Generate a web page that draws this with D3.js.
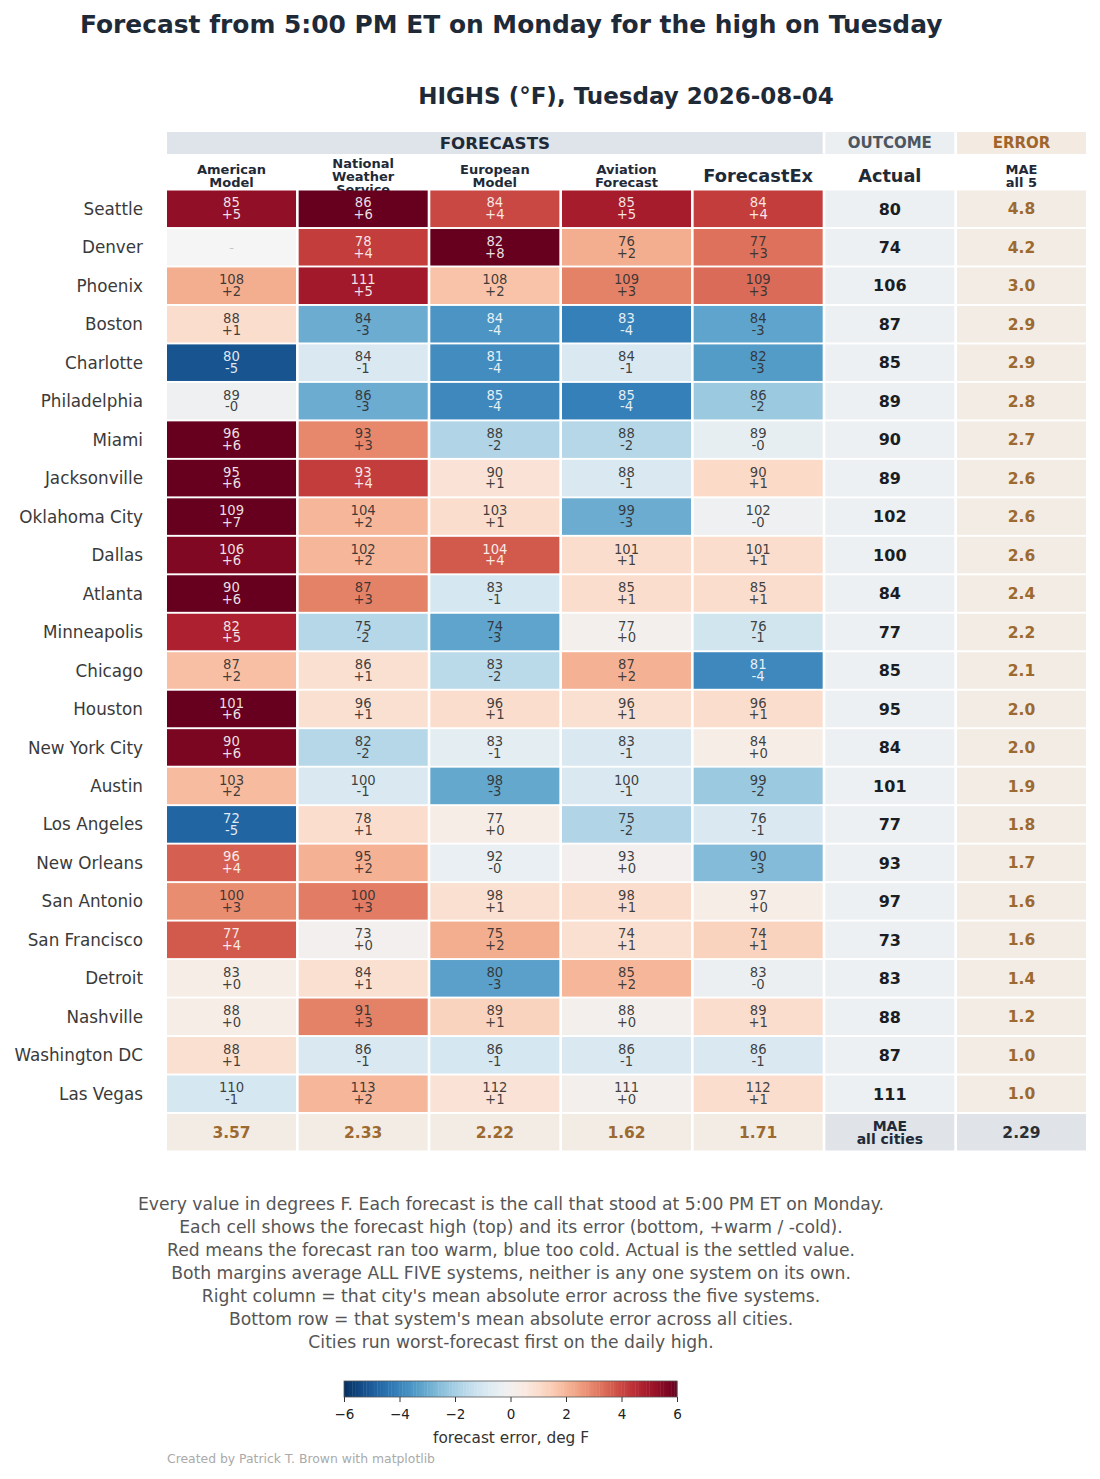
<!DOCTYPE html>
<html>
<head>
<meta charset="utf-8">
<script src="https://cdn.jsdelivr.net/npm/d3@7"></script>
<style>
  html, body { margin: 0; padding: 0; background: #fff; }
  svg { display: block; font-family: "DejaVu Sans", sans-serif; }
</style>
</head>
<body>
<svg id="chart" width="1100" height="1479"></svg>
<script>
// ---------------- DATA ----------------
const cities = ["Seattle","Denver","Phoenix","Boston","Charlotte","Philadelphia","Miami","Jacksonville",
  "Oklahoma City","Dallas","Atlanta","Minneapolis","Chicago","Houston","New York City","Austin",
  "Los Angeles","New Orleans","San Antonio","San Francisco","Detroit","Nashville","Washington DC","Las Vegas"];

const systems = ["American\nModel","National\nWeather\nService","European\nModel","Aviation\nForecast","ForecastEx"];

const actual = [80,74,106,87,85,89,90,89,102,100,84,77,85,95,84,101,77,93,97,73,83,88,87,111];

const fcAmerican   = [85,null,108,88,80,89,96,95,109,106,90,82,87,101,90,103,72,96,100,77,83,88,88,110];
const errAmerican  = [5.3,null,2.2,1.0,-5.2,-0.2,6.2,6.0,7.0,5.6,6.0,4.8,1.8,6.0,5.7,1.9,-4.8,3.6,2.8,3.7,0.3,0.3,0.9,-1.0];

const fcNWS        = [86,78,111,84,84,86,93,93,104,102,87,75,86,96,82,100,78,95,100,73,84,91,86,113];
const errNWS       = [6.0,4.2,5.0,-3.0,-0.9,-3.0,2.9,4.2,2.0,2.0,3.0,-1.7,0.9,0.9,-1.7,-0.9,1.0,2.1,3.1,0.0,0.9,3.0,-0.9,2.0];

const fcEuropean   = [84,82,108,84,81,85,88,90,103,104,83,74,83,96,83,98,77,92,98,75,80,89,86,112];
const errEuropean  = [4.0,8.0,1.7,-3.6,-3.8,-3.9,-1.8,0.8,1.0,3.7,-1.0,-3.2,-1.6,1.0,-0.6,-3.1,0.3,-0.4,0.9,2.2,-3.3,1.3,-1.0,0.8];

const fcAviation   = [85,76,109,83,84,85,88,88,99,101,85,77,87,96,83,100,75,93,98,74,85,88,86,111];
const errAviation  = [4.9,2.2,3.0,-4.1,-0.9,-4.1,-1.7,-0.9,-3.0,1.0,1.0,0.1,2.1,0.9,-0.9,-0.9,-1.8,0.0,1.0,0.9,2.0,0.1,-0.9,0.1];

const fcForecastEx  = [84,77,109,84,82,86,89,90,102,101,85,76,81,96,84,99,76,90,97,74,83,89,86,112];
const errForecastEx = [4.2,3.3,3.4,-3.2,-3.4,-2.2,-0.5,1.1,-0.2,1.0,1.0,-1.1,-3.9,1.0,0.3,-2.2,-0.9,-2.6,0.3,1.3,-0.3,1.0,-0.9,1.0];

const maeCity   = [4.8,4.2,3.0,2.9,2.9,2.8,2.7,2.6,2.6,2.6,2.4,2.2,2.1,2.0,2.0,1.9,1.8,1.7,1.6,1.6,1.4,1.2,1.0,1.0];
const maeSystem = [3.57,2.33,2.22,1.62,1.71];
const maeAll    = 2.29;

const cbTicks = [-6,-4,-2,0,2,4,6];

const footLines = [
  "Every value in degrees F. Each forecast is the call that stood at 5:00 PM ET on Monday.",
  "Each cell shows the forecast high (top) and its error (bottom, +warm / -cold).",
  "Red means the forecast ran too warm, blue too cold. Actual is the settled value.",
  "Both margins average ALL FIVE systems, neither is any one system on its own.",
  "Right column = that city's mean absolute error across the five systems.",
  "Bottom row = that system's mean absolute error across all cities.",
  "Cities run worst-forecast first on the daily high."
];

// ---------------- DRAW ----------------
const fcs  = [fcAmerican, fcNWS, fcEuropean, fcAviation, fcForecastEx];
const errs = [errAmerican, errNWS, errEuropean, errAviation, errForecastEx];

const svg = d3.select("#chart");
const DARK = "#1f2a38";
const BROWN = "#9c6a30";

const colKeys = ["c0","c1","c2","c3","c4","actual","mae"];
const x = d3.scaleBand().domain(colKeys).range([167, 1086]).paddingInner(0.02);
const rowKeys = cities.concat(["__MAE__"]);
const y = d3.scaleBand().domain(rowKeys).range([190.5, 1150.5]).paddingInner(0.05);
const color = d3.scaleSequential(d3.interpolateRdBu).domain([6, -6]).clamp(true);

const fmtErr = e => (e < 0 ? "-" : "+") + Math.abs(Math.round(e));

// Titles
svg.append("text").attr("x", 80).attr("y", 33)
  .attr("font-size", 24.9).attr("font-weight", "bold").attr("fill", DARK)
  .text("Forecast from 5:00 PM ET on Monday for the high on Tuesday");
svg.append("text").attr("x", 626).attr("y", 104).attr("text-anchor", "middle")
  .attr("font-size", 23).attr("font-weight", "bold").attr("fill", DARK)
  .text("HIGHS (°F), Tuesday 2026-08-04");

// Group header bands
const bandY = 132, bandH = 22;
const groups = [
  {label: "FORECASTS", from: "c0", to: "c4", bg: "#dfe4ea", fg: "#1f2a38", size: 16.7},
  {label: "OUTCOME", from: "actual", to: "actual", bg: "#eceff2", fg: "#4d5660", size: 15},
  {label: "ERROR", from: "mae", to: "mae", bg: "#f3ebe2", fg: "#a0652a", size: 15}
];
groups.forEach(g => {
  const x0 = x(g.from), x1 = x(g.to) + x.bandwidth();
  svg.append("rect").attr("x", x0).attr("y", bandY).attr("width", x1 - x0).attr("height", bandH).attr("fill", g.bg);
  svg.append("text").attr("x", (x0 + x1) / 2).attr("y", bandY + bandH / 2).attr("dy", "0.36em")
    .attr("text-anchor", "middle").attr("font-size", g.size).attr("font-weight", "bold")
    .attr("fill", g.fg).text(g.label);
});

// Column headers
function multiText(sel, cx, cy, lines, size, lh, attrs) {
  const t = sel.append("text").attr("text-anchor", "middle").attr("font-size", size);
  Object.entries(attrs || {}).forEach(([k, v]) => t.attr(k, v));
  const n = lines.length;
  lines.forEach((ln, i) => {
    t.append("tspan").attr("x", cx).attr("y", cy + (i - (n - 1) / 2) * lh).attr("dy", "0.36em").text(ln);
  });
  return t;
}
const headG = svg.append("g");
systems.forEach((s, i) => {
  const cx = x("c" + i) + x.bandwidth() / 2;
  const lines = s.split("\n");
  if (lines.length === 1) {
    multiText(headG, cx, 176, lines, 17.8, 20, {"font-weight": "bold", fill: DARK});
  } else {
    multiText(headG, cx, 176, lines, 13, 13, {"font-weight": "bold", fill: DARK});
  }
});
multiText(headG, x("actual") + x.bandwidth() / 2, 176, ["Actual"], 17.7, 20, {"font-weight": "bold", fill: DARK});
multiText(headG, x("mae") + x.bandwidth() / 2, 176, ["MAE", "all 5"], 13, 13, {"font-weight": "bold", fill: DARK});

// City labels
svg.append("g").selectAll("text").data(cities).join("text")
  .attr("x", 143).attr("y", d => y(d) + y.bandwidth() / 2).attr("dy", "0.36em")
  .attr("text-anchor", "end").attr("font-size", 16.8).attr("fill", "#3a3a3a").text(d => d);

// Forecast cells
const cellData = [];
cities.forEach((c, r) => {
  fcs.forEach((arr, k) => cellData.push({city: c, col: "c" + k, fc: arr[r], err: errs[k][r]}));
});
const cells = svg.append("g").selectAll("g").data(cellData).join("g")
  .attr("transform", d => `translate(${x(d.col)},${y(d.city)})`);
cells.append("rect").attr("width", x.bandwidth()).attr("height", y.bandwidth())
  .attr("fill", d => d.err == null ? "#f5f5f5" : color(d.err));
cells.each(function(d) {
  const g = d3.select(this);
  const cx = x.bandwidth() / 2, cy = y.bandwidth() / 2;
  if (d.err == null) {
    g.append("text").attr("x", cx).attr("y", cy).attr("dy", "0.36em").attr("text-anchor", "middle")
      .attr("font-size", 13).attr("fill", "#c4c4c4").text("-");
    return;
  }
  const light = Math.abs(d.err) >= 3.5;
  multiText(g, cx, cy - 0.3, [String(d.fc), fmtErr(d.err)], 13.2, 11.7,
    {fill: light ? "#ffffff" : "#2f2f2f", "fill-opacity": light ? 0.88 : 0.92});
});

// Actual column
const actG = svg.append("g");
actG.selectAll("rect").data(cities).join("rect")
  .attr("x", x("actual")).attr("y", d => y(d)).attr("width", x.bandwidth()).attr("height", y.bandwidth())
  .attr("fill", "#edf0f3");
actG.selectAll("text").data(cities).join("text")
  .attr("x", x("actual") + x.bandwidth() / 2).attr("y", d => y(d) + y.bandwidth() / 2).attr("dy", "0.36em")
  .attr("text-anchor", "middle").attr("font-size", 16).attr("font-weight", "bold").attr("fill", "#1a1d22")
  .text((d, i) => actual[i]);

// MAE column
const maeG = svg.append("g");
maeG.selectAll("rect").data(cities).join("rect")
  .attr("x", x("mae")).attr("y", d => y(d)).attr("width", x.bandwidth()).attr("height", y.bandwidth())
  .attr("fill", "#f3ece4");
maeG.selectAll("text").data(cities).join("text")
  .attr("x", x("mae") + x.bandwidth() / 2).attr("y", d => y(d) + y.bandwidth() / 2).attr("dy", "0.36em")
  .attr("text-anchor", "middle").attr("font-size", 15.5).attr("font-weight", "bold").attr("fill", BROWN)
  .text((d, i) => maeCity[i].toFixed(1));

// Bottom MAE row
const botG = svg.append("g");
const yb = y("__MAE__"), ybc = yb + y.bandwidth() / 2;
maeSystem.forEach((v, k) => {
  botG.append("rect").attr("x", x("c" + k)).attr("y", yb).attr("width", x.bandwidth()).attr("height", y.bandwidth()).attr("fill", "#f3ece4");
  botG.append("text").attr("x", x("c" + k) + x.bandwidth() / 2).attr("y", ybc).attr("dy", "0.36em")
    .attr("text-anchor", "middle").attr("font-size", 15.5).attr("font-weight", "bold").attr("fill", BROWN)
    .text(v.toFixed(2));
});
["actual", "mae"].forEach(k => {
  botG.append("rect").attr("x", x(k)).attr("y", yb).attr("width", x.bandwidth()).attr("height", y.bandwidth()).attr("fill", "#e0e4e9");
});
multiText(botG, x("actual") + x.bandwidth() / 2, ybc, ["MAE", "all cities"], 14, 13.5, {"font-weight": "bold", fill: DARK});
botG.append("text").attr("x", x("mae") + x.bandwidth() / 2).attr("y", ybc).attr("dy", "0.36em")
  .attr("text-anchor", "middle").attr("font-size", 15.5).attr("font-weight", "bold").attr("fill", "#2a2f36")
  .text(maeAll.toFixed(2));

// Footnote
svg.append("g").selectAll("text").data(footLines).join("text")
  .attr("x", 511).attr("y", (d, i) => 1204 + i * 23).attr("dy", "0.36em")
  .attr("text-anchor", "middle").attr("font-size", 17.2).attr("fill", "#555555").text(d => d);

// Colorbar
const cbX = d3.scaleLinear().domain([-6, 6]).range([344, 677]);
const cbY = 1381, cbH = 16;
const cbG = svg.append("g");
const steps = d3.range(-6, 6, 0.1);
cbG.selectAll("rect.s").data(steps).join("rect").attr("class", "s")
  .attr("x", d => cbX(d)).attr("y", cbY).attr("width", d => cbX(d + 0.1) - cbX(d) + 0.4).attr("height", cbH)
  .attr("fill", d => color(d + 0.05));
cbG.append("rect").attr("x", cbX(-6)).attr("y", cbY).attr("width", cbX(6) - cbX(-6)).attr("height", cbH)
  .attr("fill", "none").attr("stroke", "#555").attr("stroke-width", 0.8);
const axis = d3.axisBottom(cbX).tickValues(cbTicks).tickSize(5).tickPadding(7)
  .tickFormat(d => d < 0 ? "\u2212" + Math.abs(d) : String(d));
const ax = cbG.append("g").attr("transform", `translate(0,${cbY + cbH})`).call(axis);
ax.select(".domain").remove();
ax.selectAll("line").attr("stroke", "#333");
ax.selectAll("text").attr("font-size", 13.5).attr("fill", "#222").attr("font-family", "DejaVu Sans, sans-serif");
cbG.append("text").attr("x", 511).attr("y", 1437).attr("dy", "0.36em").attr("text-anchor", "middle")
  .attr("font-size", 15.3).attr("fill", "#333").text("forecast error, deg F");

// Credit
svg.append("text").attr("x", 167).attr("y", 1459).attr("dy", "0.36em")
  .attr("font-size", 12.4).attr("fill", "#aaaaaa").text("Created by Patrick T. Brown with matplotlib");
</script>
</body>
</html>
